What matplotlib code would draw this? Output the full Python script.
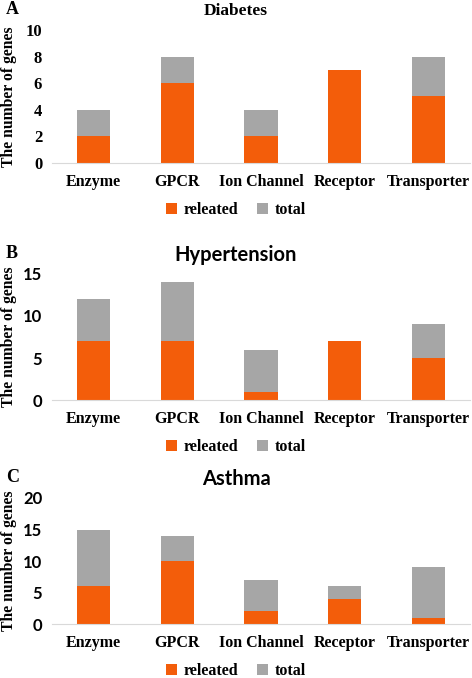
import matplotlib.pyplot as plt

categories = ["Enzyme", "GPCR", "Ion Channel", "Receptor", "Transporter"]

diabetes_related = [2, 6, 2, 7, 5]
diabetes_total = [4, 8, 4, 7, 8]

hyper_related = [7, 7, 1, 7, 5]
hyper_total = [12, 14, 6, 7, 9]

asthma_related = [6, 10, 2, 4, 1]
asthma_total = [15, 14, 7, 6, 9]

orange = "#F35D0A"
grey = "#A6A6A6"
serif = "Liberation Serif"
sans = "Lato"

panels = [
    ("A", "Diabetes", diabetes_related, diabetes_total, [0, 2, 4, 6, 8, 10], serif, serif, 12.5),
    ("B", "Hypertension", hyper_related, hyper_total, [0, 5, 10, 15], sans, sans, 14.5),
    ("C", "Asthma", asthma_related, asthma_total, [0, 5, 10, 15, 20], sans, sans, 14.5),
]
# axes boxes in figure fractions: left, bottom, width, height
boxes = [
    [0.110, 0.7596, 0.886, 0.1962],
    [0.110, 0.4100, 0.886, 0.1859],
    [0.110, 0.0796, 0.886, 0.1859],
]

fig = plt.figure(figsize=(4.72, 6.78), dpi=100)

for (letter, title, rel, tot, yticks, title_font, tick_font, tsize), box in zip(panels, boxes):
    ax = fig.add_axes(box)
    x = list(range(len(categories)))
    rest = [t - r for t, r in zip(tot, rel)]
    ax.bar(x, rel, width=0.4, color=orange, label="releated")
    ax.bar(x, rest, width=0.4, bottom=rel, color=grey, label="total")
    ax.set_xlim(-0.5, 4.5)
    ax.set_ylim(0, yticks[-1])
    ax.set_yticks(yticks)
    ax.set_xticks(x)
    ax.set_xticklabels(categories, fontfamily=serif, fontweight="bold", fontsize=11.5)
    for lab in ax.get_yticklabels():
        lab.set_fontfamily(tick_font)
        lab.set_fontweight("bold")
        lab.set_fontsize(12)
    ax.tick_params(length=0, pad=7)
    ax.tick_params(axis="x", pad=8)
    for s in ["top", "right", "left"]:
        ax.spines[s].set_visible(False)
    ax.spines["bottom"].set_color("#D9D9D9")
    ax.set_ylabel("The number of genes", fontfamily=serif, fontweight="bold", fontsize=11.3)
    ax.yaxis.set_label_coords(-0.084, 0.5)
    bb = ax.get_position()
    fig.text(0.5, bb.y1 + 0.028, title, ha="center", va="center",
             fontfamily=title_font, fontweight="bold", fontsize=tsize)
    fig.text(0.012, bb.y1 + 0.03, letter, ha="left", va="center",
             fontfamily=serif, fontweight="bold", fontsize=13)
    fig.legend(*ax.get_legend_handles_labels(), loc="center", ncol=2,
               bbox_to_anchor=(0.5, bb.y0 - 0.07), frameon=False,
               prop={"family": serif, "weight": "bold", "size": 11.5},
               handlelength=0.7, handleheight=0.7, handletextpad=0.4, columnspacing=1.2)

plt.savefig("out.png", dpi=100)
